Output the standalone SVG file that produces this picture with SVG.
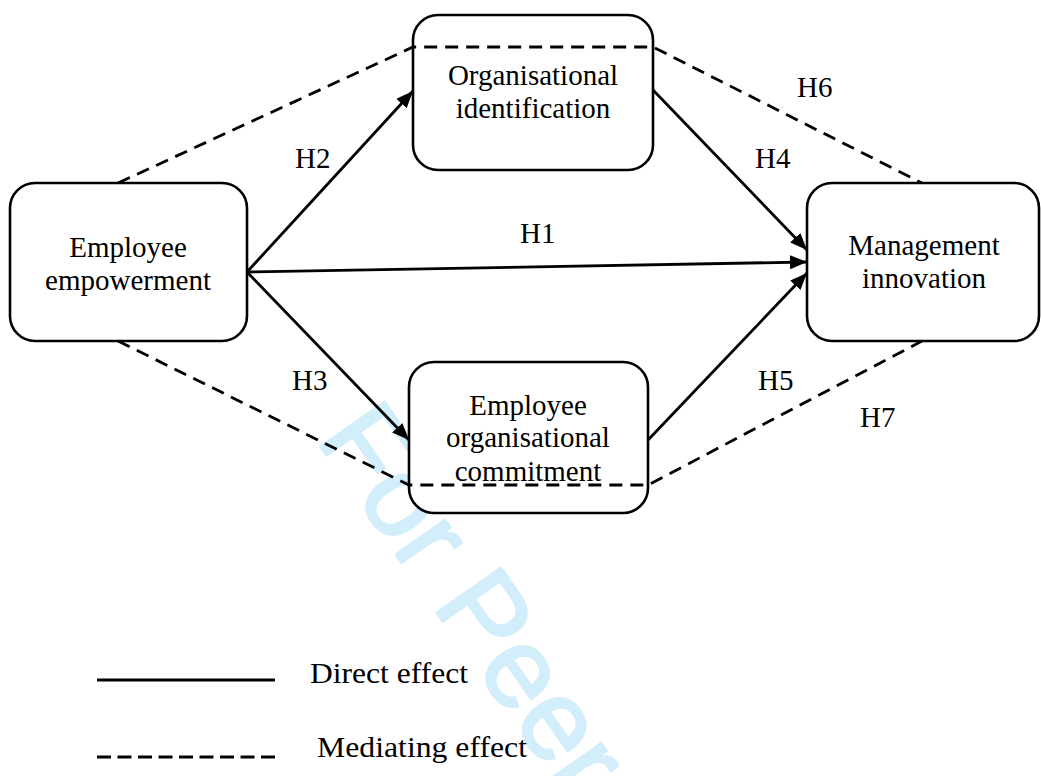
<svg xmlns="http://www.w3.org/2000/svg" width="1041" height="776" viewBox="0 0 1041 776">
  <style>
    .box { fill: #ffffff; stroke: #000000; stroke-width: 2.6; }
    .txt { font-family: "Liberation Serif", "Times New Roman", serif; font-size: 29px; fill: #000000; }
    .mid { text-anchor: middle; }
    .direct { fill: none; stroke: #000000; stroke-width: 2.8; marker-end: url(#arrow); }
    .mediate { fill: none; stroke: #000000; stroke-width: 2.8; stroke-dasharray: 13 8; }
    .watermark { font-family: "Liberation Sans", Arial, sans-serif; font-size: 114px; fill: #d3eefb; stroke: #d3eefb; stroke-width: 2.5; stroke-linejoin: round; }
  </style>
  <defs>
    <marker id="arrow" markerUnits="userSpaceOnUse" markerWidth="18" markerHeight="14" refX="17" refY="7" orient="auto">
      <path d="M0,0 L17,7 L0,14 Z" fill="#000000"/>
    </marker>
  </defs>

  <rect width="1041" height="776" fill="#ffffff"/>

  <!-- watermark -->
  <text class="watermark" transform="translate(315,439) rotate(55)">For Peer</text>

  <!-- nodes -->
  <g id="employee-empowerment">
    <rect class="box" x="10" y="183" width="237" height="158" rx="25"/>
    <text class="txt mid" x="128" y="257">Employee</text>
    <text class="txt mid" x="128" y="290">empowerment</text>
  </g>
  <g id="organisational-identification">
    <rect class="box" x="413" y="15" width="240" height="155" rx="25"/>
    <text class="txt mid" x="533" y="85">Organisational</text>
    <text class="txt mid" x="533" y="118">identification</text>
  </g>
  <g id="employee-organisational-commitment">
    <rect class="box" x="409" y="362" width="239" height="151" rx="25"/>
    <text class="txt mid" x="528" y="415">Employee</text>
    <text class="txt mid" x="528" y="447">organisational</text>
    <text class="txt mid" x="528" y="481">commitment</text>
  </g>
  <g id="management-innovation">
    <rect class="box" x="807" y="183" width="232" height="158" rx="25"/>
    <text class="txt mid" x="924" y="255">Management</text>
    <text class="txt mid" x="924" y="288">innovation</text>
  </g>

  <!-- connectors -->
  <g id="connectors">
    <path class="mediate" d="M118,183 L413,47 L653,47 L922,183"/>
    <path class="mediate" d="M118,341 L409,485 L648,485 L922,341"/>
    <line class="direct" x1="247" y1="272" x2="413" y2="91"/>
    <line class="direct" x1="247" y1="272" x2="807" y2="262"/>
    <line class="direct" x1="247" y1="272" x2="409" y2="440"/>
    <line class="direct" x1="653" y1="90" x2="807" y2="250"/>
    <line class="direct" x1="648" y1="440" x2="807" y2="273"/>
  </g>

  <!-- hypothesis labels -->
  <g id="labels">
    <text class="txt" x="520" y="243">H1</text>
    <text class="txt" x="295" y="168">H2</text>
    <text class="txt" x="292" y="390">H3</text>
    <text class="txt" x="755" y="168">H4</text>
    <text class="txt" x="758" y="390">H5</text>
    <text class="txt" x="797" y="97">H6</text>
    <text class="txt" x="860" y="427">H7</text>
  </g>

  <!-- legend -->
  <g id="legend">
    <line x1="97" y1="680" x2="275" y2="680" stroke="#000000" stroke-width="3"/>
    <text class="txt" x="310" y="683" textLength="158" lengthAdjust="spacingAndGlyphs">Direct effect</text>
    <line x1="97" y1="757" x2="275" y2="757" stroke="#000000" stroke-width="3" stroke-dasharray="14 6.5"/>
    <text class="txt" x="317" y="757" textLength="210" lengthAdjust="spacingAndGlyphs">Mediating effect</text>
  </g>
</svg>
